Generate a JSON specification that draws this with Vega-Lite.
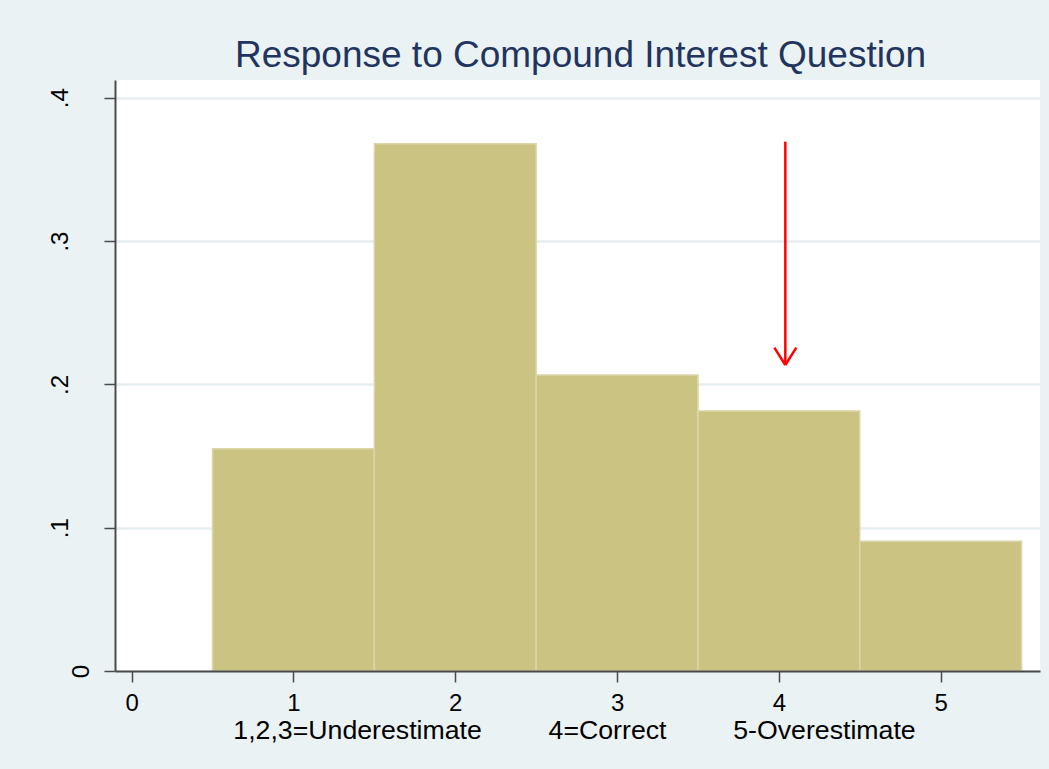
{
  "$schema": "https://vega.github.io/schema/vega-lite/v6.json",
  "width": 925,
  "height": 591,
  "autosize": {"type": "none"},
  "padding": {"left": 115, "top": 80, "right": 9, "bottom": 98},
  "background": "#EAF2F3",
  "title": {
    "text": "Response to Compound Interest Question",
    "font": "Liberation Sans",
    "fontSize": 37,
    "fontWeight": "normal",
    "color": "#1F3560",
    "baseline": "bottom",
    "offset": 4,
    "frame": "group",
    "anchor": "middle",
    "dx": 3,
    "dy": 36
  },
  "datasets": {
    "bars": [
      {"response": 1, "bin_start": 0.5, "bin_end": 1.5, "density": 0.155},
      {"response": 2, "bin_start": 1.5, "bin_end": 2.5, "density": 0.368},
      {"response": 3, "bin_start": 2.5, "bin_end": 3.5, "density": 0.2066},
      {"response": 4, "bin_start": 3.5, "bin_end": 4.5, "density": 0.1814},
      {"response": 5, "bin_start": 4.5, "bin_end": 5.5, "density": 0.0905}
    ],
    "arrow": [
      {"part": "shaft", "x": 4.04, "y": 0.3694, "x2": 4.04, "y2": 0.2135},
      {"part": "head_left", "x": 3.972, "y": 0.2257, "x2": 4.04, "y2": 0.2135},
      {"part": "head_right", "x": 4.108, "y": 0.2257, "x2": 4.04, "y2": 0.2135}
    ]
  },
  "layer": [
    {
      "data": {"name": "bars"},
      "mark": {"type": "bar", "fill": "#CBC382", "stroke": "#DBD6A9", "strokeWidth": 1.5},
      "encoding": {
        "x": {
          "field": "bin_start",
          "type": "quantitative",
          "scale": {"domain": [-0.103, 5.614], "nice": false, "zero": false},
          "axis": {
            "values": [0, 1, 2, 3, 4, 5],
            "format": "d",
            "title": "1,2,3=Underestimate\u00a0\u00a0\u00a0\u00a0\u00a0\u00a0\u00a0\u00a0\u00a04=Correct\u00a0\u00a0\u00a0\u00a0\u00a0\u00a0\u00a0\u00a0\u00a05-Overestimate",
            "titleFont": "Liberation Sans",
            "titleFontSize": 26.7,
            "titleFontWeight": "normal",
            "titleColor": "#000000",
            "titlePadding": 2,
            "titleX": 459,
            "labelFont": "Liberation Sans",
            "labelFontSize": 24,
            "labelColor": "#000000",
            "labelPadding": 9,
            "tickSize": 11,
            "tickWidth": 1.5,
            "tickColor": "#4A4A4A",
            "domainColor": "#4A4A4A",
            "domainWidth": 2,
            "grid": false,
            "zindex": 1
          }
        },
        "x2": {"field": "bin_end"},
        "y": {
          "field": "density",
          "type": "quantitative",
          "scale": {"domain": [0, 0.4124], "nice": false},
          "axis": {
            "values": [0, 0.1, 0.2, 0.3, 0.4],
            "labelExpr": "datum.value == 0 ? '0' : replace(format(datum.value, '.1f'), '0.', '.')",
            "title": null,
            "labelFont": "Liberation Sans",
            "labelFontSize": 24,
            "labelColor": "#000000",
            "labelAngle": -90,
            "labelAlign": "center",
            "labelBaseline": "bottom",
            "labelPadding": {"expr": "datum.value == 0 ? 11 : 32"},
            "tickSize": 11,
            "tickWidth": 1.5,
            "tickColor": "#4A4A4A",
            "domainColor": "#4A4A4A",
            "domainWidth": 2,
            "grid": true,
            "gridColor": "#E6EEF1",
            "gridWidth": 2.5
          }
        },
        "y2": {"datum": 0}
      }
    },
    {
      "data": {"name": "arrow"},
      "mark": {"type": "rule", "color": "#FF0000", "strokeWidth": 2.5},
      "encoding": {
        "x": {"field": "x", "type": "quantitative"},
        "y": {"field": "y", "type": "quantitative"},
        "x2": {"field": "x2"},
        "y2": {"field": "y2"}
      }
    }
  ],
  "config": {
    "view": {"fill": "#FFFFFF", "stroke": null},
    "font": "Liberation Sans"
  }
}
